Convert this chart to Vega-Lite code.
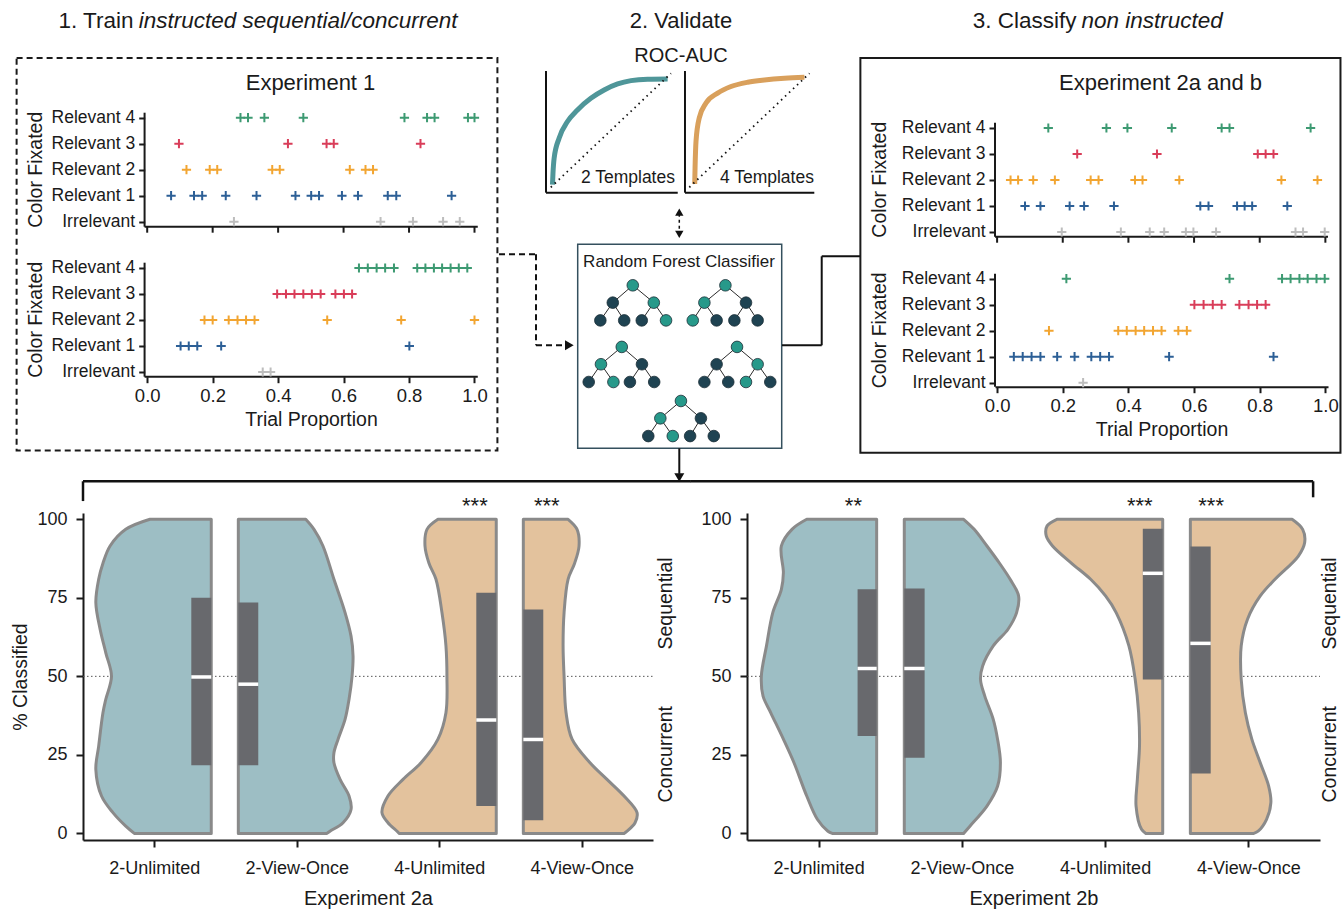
{
"$schema":"https://vega.github.io/schema/vega-lite/v6.json",
"background":"white",
"autosize":{"type":"pad"},
"padding":{"left":5,"top":3,"right":0,"bottom":0},
"config":{"font":"Liberation Sans","view":{"stroke":null},
"axis":{"grid":false,"domainColor":"#1a1a1a","tickColor":"#1a1a1a","labelColor":"#1a1a1a","titleColor":"#1a1a1a","titleFontWeight":"normal","domainWidth":2,"tickWidth":2,"labelFont":"Liberation Sans","titleFont":"Liberation Sans","labelFlush":false,"labelOverlap":false},
"text":{"color":"#1a1a1a","font":"Liberation Sans"}},
"datasets":{
"one":[{"a":1}],
"xticks":[{"v":0},{"v":0.2},{"v":0.4},{"v":0.6},{"v":0.8},{"v":1}],
"e1top":[
{"c":"Relevant 4","l":4,"x":0.285},{"c":"Relevant 4","l":4,"x":0.308},{"c":"Relevant 4","l":4,"x":0.358},{"c":"Relevant 4","l":4,"x":0.477},{"c":"Relevant 4","l":4,"x":0.786},{"c":"Relevant 4","l":4,"x":0.855},{"c":"Relevant 4","l":4,"x":0.878},{"c":"Relevant 4","l":4,"x":0.98},{"c":"Relevant 4","l":4,"x":1.0},
{"c":"Relevant 3","l":3,"x":0.097},{"c":"Relevant 3","l":3,"x":0.43},{"c":"Relevant 3","l":3,"x":0.548},{"c":"Relevant 3","l":3,"x":0.57},{"c":"Relevant 3","l":3,"x":0.835},
{"c":"Relevant 2","l":2,"x":0.12},{"c":"Relevant 2","l":2,"x":0.191},{"c":"Relevant 2","l":2,"x":0.214},{"c":"Relevant 2","l":2,"x":0.382},{"c":"Relevant 2","l":2,"x":0.405},{"c":"Relevant 2","l":2,"x":0.619},{"c":"Relevant 2","l":2,"x":0.667},{"c":"Relevant 2","l":2,"x":0.69},
{"c":"Relevant 1","l":1,"x":0.073},{"c":"Relevant 1","l":1,"x":0.143},{"c":"Relevant 1","l":1,"x":0.168},{"c":"Relevant 1","l":1,"x":0.24},{"c":"Relevant 1","l":1,"x":0.334},{"c":"Relevant 1","l":1,"x":0.453},{"c":"Relevant 1","l":1,"x":0.501},{"c":"Relevant 1","l":1,"x":0.525},{"c":"Relevant 1","l":1,"x":0.595},{"c":"Relevant 1","l":1,"x":0.644},{"c":"Relevant 1","l":1,"x":0.735},{"c":"Relevant 1","l":1,"x":0.761},{"c":"Relevant 1","l":1,"x":0.93},
{"c":"Irrelevant","l":0,"x":0.265},{"c":"Irrelevant","l":0,"x":0.713},{"c":"Irrelevant","l":0,"x":0.812},{"c":"Irrelevant","l":0,"x":0.904},{"c":"Irrelevant","l":0,"x":0.955}],
"e1bot":[
{"c":"Relevant 4","l":4,"x":0.647},{"c":"Relevant 4","l":4,"x":0.674},{"c":"Relevant 4","l":4,"x":0.701},{"c":"Relevant 4","l":4,"x":0.727},{"c":"Relevant 4","l":4,"x":0.754},{"c":"Relevant 4","l":4,"x":0.825},{"c":"Relevant 4","l":4,"x":0.85},{"c":"Relevant 4","l":4,"x":0.876},{"c":"Relevant 4","l":4,"x":0.901},{"c":"Relevant 4","l":4,"x":0.927},{"c":"Relevant 4","l":4,"x":0.952},{"c":"Relevant 4","l":4,"x":0.978},
{"c":"Relevant 3","l":3,"x":0.397},{"c":"Relevant 3","l":3,"x":0.424},{"c":"Relevant 3","l":3,"x":0.45},{"c":"Relevant 3","l":3,"x":0.477},{"c":"Relevant 3","l":3,"x":0.503},{"c":"Relevant 3","l":3,"x":0.53},{"c":"Relevant 3","l":3,"x":0.575},{"c":"Relevant 3","l":3,"x":0.601},{"c":"Relevant 3","l":3,"x":0.626},
{"c":"Relevant 2","l":2,"x":0.175},{"c":"Relevant 2","l":2,"x":0.2},{"c":"Relevant 2","l":2,"x":0.249},{"c":"Relevant 2","l":2,"x":0.276},{"c":"Relevant 2","l":2,"x":0.302},{"c":"Relevant 2","l":2,"x":0.328},{"c":"Relevant 2","l":2,"x":0.55},{"c":"Relevant 2","l":2,"x":0.776},{"c":"Relevant 2","l":2,"x":1.0},
{"c":"Relevant 1","l":1,"x":0.102},{"c":"Relevant 1","l":1,"x":0.127},{"c":"Relevant 1","l":1,"x":0.153},{"c":"Relevant 1","l":1,"x":0.226},{"c":"Relevant 1","l":1,"x":0.801},
{"c":"Irrelevant","l":0,"x":0.353},{"c":"Irrelevant","l":0,"x":0.377}],
"e2top":[
{"c":"Relevant 4","l":4,"x":0.156},{"c":"Relevant 4","l":4,"x":0.333},{"c":"Relevant 4","l":4,"x":0.397},{"c":"Relevant 4","l":4,"x":0.532},{"c":"Relevant 4","l":4,"x":0.684},{"c":"Relevant 4","l":4,"x":0.708},{"c":"Relevant 4","l":4,"x":0.955},
{"c":"Relevant 3","l":3,"x":0.244},{"c":"Relevant 3","l":3,"x":0.487},{"c":"Relevant 3","l":3,"x":0.794},{"c":"Relevant 3","l":3,"x":0.818},{"c":"Relevant 3","l":3,"x":0.842},
{"c":"Relevant 2","l":2,"x":0.041},{"c":"Relevant 2","l":2,"x":0.064},{"c":"Relevant 2","l":2,"x":0.11},{"c":"Relevant 2","l":2,"x":0.176},{"c":"Relevant 2","l":2,"x":0.285},{"c":"Relevant 2","l":2,"x":0.309},{"c":"Relevant 2","l":2,"x":0.42},{"c":"Relevant 2","l":2,"x":0.443},{"c":"Relevant 2","l":2,"x":0.555},{"c":"Relevant 2","l":2,"x":0.866},{"c":"Relevant 2","l":2,"x":0.976},
{"c":"Relevant 1","l":1,"x":0.085},{"c":"Relevant 1","l":1,"x":0.132},{"c":"Relevant 1","l":1,"x":0.221},{"c":"Relevant 1","l":1,"x":0.265},{"c":"Relevant 1","l":1,"x":0.356},{"c":"Relevant 1","l":1,"x":0.619},{"c":"Relevant 1","l":1,"x":0.644},{"c":"Relevant 1","l":1,"x":0.731},{"c":"Relevant 1","l":1,"x":0.754},{"c":"Relevant 1","l":1,"x":0.777},{"c":"Relevant 1","l":1,"x":0.884},
{"c":"Irrelevant","l":0,"x":0.197},{"c":"Irrelevant","l":0,"x":0.377},{"c":"Irrelevant","l":0,"x":0.465},{"c":"Irrelevant","l":0,"x":0.509},{"c":"Irrelevant","l":0,"x":0.575},{"c":"Irrelevant","l":0,"x":0.598},{"c":"Irrelevant","l":0,"x":0.667},{"c":"Irrelevant","l":0,"x":0.909},{"c":"Irrelevant","l":0,"x":0.932},{"c":"Irrelevant","l":0,"x":0.998}],
"e2bot":[
{"c":"Relevant 4","l":4,"x":0.211},{"c":"Relevant 4","l":4,"x":0.708},{"c":"Relevant 4","l":4,"x":0.868},{"c":"Relevant 4","l":4,"x":0.894},{"c":"Relevant 4","l":4,"x":0.921},{"c":"Relevant 4","l":4,"x":0.946},{"c":"Relevant 4","l":4,"x":0.973},{"c":"Relevant 4","l":4,"x":0.998},
{"c":"Relevant 3","l":3,"x":0.601},{"c":"Relevant 3","l":3,"x":0.629},{"c":"Relevant 3","l":3,"x":0.657},{"c":"Relevant 3","l":3,"x":0.684},{"c":"Relevant 3","l":3,"x":0.738},{"c":"Relevant 3","l":3,"x":0.766},{"c":"Relevant 3","l":3,"x":0.792},{"c":"Relevant 3","l":3,"x":0.818},
{"c":"Relevant 2","l":2,"x":0.158},{"c":"Relevant 2","l":2,"x":0.369},{"c":"Relevant 2","l":2,"x":0.395},{"c":"Relevant 2","l":2,"x":0.422},{"c":"Relevant 2","l":2,"x":0.448},{"c":"Relevant 2","l":2,"x":0.475},{"c":"Relevant 2","l":2,"x":0.501},{"c":"Relevant 2","l":2,"x":0.552},{"c":"Relevant 2","l":2,"x":0.578},
{"c":"Relevant 1","l":1,"x":0.051},{"c":"Relevant 1","l":1,"x":0.078},{"c":"Relevant 1","l":1,"x":0.105},{"c":"Relevant 1","l":1,"x":0.132},{"c":"Relevant 1","l":1,"x":0.183},{"c":"Relevant 1","l":1,"x":0.236},{"c":"Relevant 1","l":1,"x":0.287},{"c":"Relevant 1","l":1,"x":0.314},{"c":"Relevant 1","l":1,"x":0.341},{"c":"Relevant 1","l":1,"x":0.524},{"c":"Relevant 1","l":1,"x":0.842},
{"c":"Irrelevant","l":0,"x":0.262}],
"roc2":[{"f":0.014,"t":0.023},{"f":0.018,"t":0.12},{"f":0.028,"t":0.257},{"f":0.069,"t":0.431},{"f":0.139,"t":0.577},{"f":0.222,"t":0.679},{"f":0.333,"t":0.781},{"f":0.444,"t":0.854},{"f":0.556,"t":0.907},{"f":0.667,"t":0.936},{"f":0.806,"t":0.948},{"f":0.972,"t":0.95}],
"roc4":[{"f":0.045,"t":0.029},{"f":0.048,"t":0.174},{"f":0.056,"t":0.406},{"f":0.083,"t":0.609},{"f":0.139,"t":0.739},{"f":0.236,"t":0.826},{"f":0.347,"t":0.884},{"f":0.486,"t":0.922},{"f":0.625,"t":0.942},{"f":0.792,"t":0.957},{"f":0.958,"t":0.965}],
"nodes":[
{"x":2.70,"y":2.01,"k":"t"},{"x":1.72,"y":2.86,"k":"d"},{"x":3.73,"y":2.86,"k":"t"},{"x":1.11,"y":3.73,"k":"d"},{"x":2.28,"y":3.73,"k":"d"},{"x":3.14,"y":3.73,"k":"d"},{"x":4.33,"y":3.73,"k":"t"},
{"x":7.24,"y":2.01,"k":"t"},{"x":6.21,"y":2.86,"k":"t"},{"x":8.25,"y":2.86,"k":"d"},{"x":5.64,"y":3.73,"k":"t"},{"x":6.81,"y":3.73,"k":"d"},{"x":7.68,"y":3.73,"k":"d"},{"x":8.82,"y":3.73,"k":"d"},
{"x":2.16,"y":5.03,"k":"t"},{"x":1.14,"y":5.88,"k":"t"},{"x":3.15,"y":5.88,"k":"d"},{"x":0.54,"y":6.75,"k":"d"},{"x":1.75,"y":6.75,"k":"t"},{"x":2.56,"y":6.75,"k":"d"},{"x":3.75,"y":6.75,"k":"d"},
{"x":7.81,"y":5.03,"k":"t"},{"x":6.81,"y":5.88,"k":"d"},{"x":8.82,"y":5.88,"k":"t"},{"x":6.21,"y":6.75,"k":"d"},{"x":7.38,"y":6.75,"k":"d"},{"x":8.25,"y":6.75,"k":"t"},{"x":9.44,"y":6.75,"k":"d"},
{"x":5.06,"y":7.68,"k":"t"},{"x":4.05,"y":8.53,"k":"t"},{"x":6.04,"y":8.53,"k":"d"},{"x":3.46,"y":9.40,"k":"d"},{"x":4.66,"y":9.40,"k":"t"},{"x":5.51,"y":9.40,"k":"d"},{"x":6.67,"y":9.40,"k":"d"}],
"edges":[
{"x":2.70,"y":2.01,"x2":1.72,"y2":2.86},{"x":2.70,"y":2.01,"x2":3.73,"y2":2.86},{"x":1.72,"y":2.86,"x2":1.11,"y2":3.73},{"x":1.72,"y":2.86,"x2":2.28,"y2":3.73},{"x":3.73,"y":2.86,"x2":3.14,"y2":3.73},{"x":3.73,"y":2.86,"x2":4.33,"y2":3.73},
{"x":7.24,"y":2.01,"x2":6.21,"y2":2.86},{"x":7.24,"y":2.01,"x2":8.25,"y2":2.86},{"x":6.21,"y":2.86,"x2":5.64,"y2":3.73},{"x":6.21,"y":2.86,"x2":6.81,"y2":3.73},{"x":8.25,"y":2.86,"x2":7.68,"y2":3.73},{"x":8.25,"y":2.86,"x2":8.82,"y2":3.73},
{"x":2.16,"y":5.03,"x2":1.14,"y2":5.88},{"x":2.16,"y":5.03,"x2":3.15,"y2":5.88},{"x":1.14,"y":5.88,"x2":0.54,"y2":6.75},{"x":1.14,"y":5.88,"x2":1.75,"y2":6.75},{"x":3.15,"y":5.88,"x2":2.56,"y2":6.75},{"x":3.15,"y":5.88,"x2":3.75,"y2":6.75},
{"x":7.81,"y":5.03,"x2":6.81,"y2":5.88},{"x":7.81,"y":5.03,"x2":8.82,"y2":5.88},{"x":6.81,"y":5.88,"x2":6.21,"y2":6.75},{"x":6.81,"y":5.88,"x2":7.38,"y2":6.75},{"x":8.82,"y":5.88,"x2":8.25,"y2":6.75},{"x":8.82,"y":5.88,"x2":9.44,"y2":6.75},
{"x":5.06,"y":7.68,"x2":4.05,"y2":8.53},{"x":5.06,"y":7.68,"x2":6.04,"y2":8.53},{"x":4.05,"y":8.53,"x2":3.46,"y2":9.40},{"x":4.05,"y":8.53,"x2":4.66,"y2":9.40},{"x":6.04,"y":8.53,"x2":5.51,"y2":9.40},{"x":6.04,"y":8.53,"x2":6.67,"y2":9.40}],
"vio2a":[
{"c":"2-Unlimited","t":"2","y":0,"xo":-0.14,"xe":0.40},{"c":"2-Unlimited","t":"2","y":2.3,"xo":-0.20,"xe":0.40},{"c":"2-Unlimited","t":"2","y":6.6,"xo":-0.29,"xe":0.40},{"c":"2-Unlimited","t":"2","y":11.9,"xo":-0.37,"xe":0.40},{"c":"2-Unlimited","t":"2","y":20.4,"xo":-0.41,"xe":0.40},{"c":"2-Unlimited","t":"2","y":27.8,"xo":-0.39,"xe":0.40},{"c":"2-Unlimited","t":"2","y":38.4,"xo":-0.36,"xe":0.40},{"c":"2-Unlimited","t":"2","y":42.7,"xo":-0.34,"xe":0.40},{"c":"2-Unlimited","t":"2","y":50,"xo":-0.30,"xe":0.40},{"c":"2-Unlimited","t":"2","y":57.5,"xo":-0.34,"xe":0.40},{"c":"2-Unlimited","t":"2","y":65,"xo":-0.38,"xe":0.40},{"c":"2-Unlimited","t":"2","y":73.5,"xo":-0.41,"xe":0.40},{"c":"2-Unlimited","t":"2","y":80.9,"xo":-0.39,"xe":0.40},{"c":"2-Unlimited","t":"2","y":86,"xo":-0.36,"xe":0.40},{"c":"2-Unlimited","t":"2","y":91.5,"xo":-0.31,"xe":0.40},{"c":"2-Unlimited","t":"2","y":96.8,"xo":-0.20,"xe":0.40},{"c":"2-Unlimited","t":"2","y":100,"xo":-0.03,"xe":0.40},
{"c":"2-View-Once","t":"2","y":0,"xo":1.212,"xe":0.59},{"c":"2-View-Once","t":"2","y":0.7,"xo":1.233,"xe":0.59},{"c":"2-View-Once","t":"2","y":3.4,"xo":1.325,"xe":0.59},{"c":"2-View-Once","t":"2","y":7.6,"xo":1.381,"xe":0.59},{"c":"2-View-Once","t":"2","y":11.9,"xo":1.367,"xe":0.59},{"c":"2-View-Once","t":"2","y":17.2,"xo":1.304,"xe":0.59},{"c":"2-View-Once","t":"2","y":22.5,"xo":1.261,"xe":0.59},{"c":"2-View-Once","t":"2","y":25.7,"xo":1.261,"xe":0.59},{"c":"2-View-Once","t":"2","y":30,"xo":1.29,"xe":0.59},{"c":"2-View-Once","t":"2","y":36.3,"xo":1.339,"xe":0.59},{"c":"2-View-Once","t":"2","y":42.7,"xo":1.367,"xe":0.59},{"c":"2-View-Once","t":"2","y":50,"xo":1.388,"xe":0.59},{"c":"2-View-Once","t":"2","y":56.5,"xo":1.395,"xe":0.59},{"c":"2-View-Once","t":"2","y":62.8,"xo":1.381,"xe":0.59},{"c":"2-View-Once","t":"2","y":70.3,"xo":1.339,"xe":0.59},{"c":"2-View-Once","t":"2","y":80.9,"xo":1.261,"xe":0.59},{"c":"2-View-Once","t":"2","y":91.5,"xo":1.184,"xe":0.59},{"c":"2-View-Once","t":"2","y":96.8,"xo":1.121,"xe":0.59},{"c":"2-View-Once","t":"2","y":100,"xo":1.063,"xe":0.59},
{"c":"4-Unlimited","t":"4","y":0,"xo":1.718,"xe":2.40},{"c":"4-Unlimited","t":"4","y":0.7,"xo":1.704,"xe":2.40},{"c":"4-Unlimited","t":"4","y":3.4,"xo":1.64,"xe":2.40},{"c":"4-Unlimited","t":"4","y":6.6,"xo":1.598,"xe":2.40},{"c":"4-Unlimited","t":"4","y":11.9,"xo":1.64,"xe":2.40},{"c":"4-Unlimited","t":"4","y":17.2,"xo":1.746,"xe":2.40},{"c":"4-Unlimited","t":"4","y":22.5,"xo":1.872,"xe":2.40},{"c":"4-Unlimited","t":"4","y":30,"xo":1.991,"xe":2.40},{"c":"4-Unlimited","t":"4","y":38.4,"xo":2.047,"xe":2.40},{"c":"4-Unlimited","t":"4","y":50,"xo":2.054,"xe":2.40},{"c":"4-Unlimited","t":"4","y":59.7,"xo":2.047,"xe":2.40},{"c":"4-Unlimited","t":"4","y":70.3,"xo":2.019,"xe":2.40},{"c":"4-Unlimited","t":"4","y":80.9,"xo":1.977,"xe":2.40},{"c":"4-Unlimited","t":"4","y":86,"xo":1.928,"xe":2.40},{"c":"4-Unlimited","t":"4","y":91.5,"xo":1.9,"xe":2.40},{"c":"4-Unlimited","t":"4","y":96.8,"xo":1.914,"xe":2.40},{"c":"4-Unlimited","t":"4","y":100,"xo":1.991,"xe":2.40},
{"c":"4-View-Once","t":"4","y":0,"xo":3.297,"xe":2.59},{"c":"4-View-Once","t":"4","y":0.7,"xo":3.318,"xe":2.59},{"c":"4-View-Once","t":"4","y":3.4,"xo":3.374,"xe":2.59},{"c":"4-View-Once","t":"4","y":6.6,"xo":3.388,"xe":2.59},{"c":"4-View-Once","t":"4","y":11.9,"xo":3.297,"xe":2.59},{"c":"4-View-Once","t":"4","y":17.2,"xo":3.177,"xe":2.59},{"c":"4-View-Once","t":"4","y":22.5,"xo":3.058,"xe":2.59},{"c":"4-View-Once","t":"4","y":30,"xo":2.932,"xe":2.59},{"c":"4-View-Once","t":"4","y":38.4,"xo":2.89,"xe":2.59},{"c":"4-View-Once","t":"4","y":50,"xo":2.876,"xe":2.59},{"c":"4-View-Once","t":"4","y":59.7,"xo":2.869,"xe":2.59},{"c":"4-View-Once","t":"4","y":70.3,"xo":2.876,"xe":2.59},{"c":"4-View-Once","t":"4","y":80.9,"xo":2.904,"xe":2.59},{"c":"4-View-Once","t":"4","y":86,"xo":2.95,"xe":2.59},{"c":"4-View-Once","t":"4","y":91.5,"xo":2.981,"xe":2.59},{"c":"4-View-Once","t":"4","y":96.8,"xo":2.967,"xe":2.59},{"c":"4-View-Once","t":"4","y":100,"xo":2.904,"xe":2.59}],
"vio2b":[
{"c":"2-Unlimited","t":"2","y":0,"xo":0.095,"xe":0.405},{"c":"2-Unlimited","t":"2","y":0.7,"xo":0.065,"xe":0.405},{"c":"2-Unlimited","t":"2","y":4.5,"xo":-0.009,"xe":0.405},{"c":"2-Unlimited","t":"2","y":11.9,"xo":-0.083,"xe":0.405},{"c":"2-Unlimited","t":"2","y":22.5,"xo":-0.172,"xe":0.405},{"c":"2-Unlimited","t":"2","y":30,"xo":-0.246,"xe":0.405},{"c":"2-Unlimited","t":"2","y":38.4,"xo":-0.334,"xe":0.405},{"c":"2-Unlimited","t":"2","y":43.7,"xo":-0.388,"xe":0.405},{"c":"2-Unlimited","t":"2","y":50,"xo":-0.4,"xe":0.405},{"c":"2-Unlimited","t":"2","y":59.7,"xo":-0.364,"xe":0.405},{"c":"2-Unlimited","t":"2","y":70.3,"xo":-0.32,"xe":0.405},{"c":"2-Unlimited","t":"2","y":77.7,"xo":-0.26,"xe":0.405},{"c":"2-Unlimited","t":"2","y":83,"xo":-0.246,"xe":0.405},{"c":"2-Unlimited","t":"2","y":91.5,"xo":-0.26,"xe":0.405},{"c":"2-Unlimited","t":"2","y":96.8,"xo":-0.186,"xe":0.405},{"c":"2-Unlimited","t":"2","y":100,"xo":-0.083,"xe":0.405},
{"c":"2-View-Once","t":"2","y":0,"xo":1.012,"xe":0.598},{"c":"2-View-Once","t":"2","y":2.3,"xo":1.056,"xe":0.598},{"c":"2-View-Once","t":"2","y":8.7,"xo":1.175,"xe":0.598},{"c":"2-View-Once","t":"2","y":15,"xo":1.249,"xe":0.598},{"c":"2-View-Once","t":"2","y":22.5,"xo":1.269,"xe":0.598},{"c":"2-View-Once","t":"2","y":30,"xo":1.249,"xe":0.598},{"c":"2-View-Once","t":"2","y":36.3,"xo":1.219,"xe":0.598},{"c":"2-View-Once","t":"2","y":43.7,"xo":1.16,"xe":0.598},{"c":"2-View-Once","t":"2","y":49,"xo":1.13,"xe":0.598},{"c":"2-View-Once","t":"2","y":53.3,"xo":1.145,"xe":0.598},{"c":"2-View-Once","t":"2","y":59.7,"xo":1.219,"xe":0.598},{"c":"2-View-Once","t":"2","y":65,"xo":1.322,"xe":0.598},{"c":"2-View-Once","t":"2","y":70.3,"xo":1.382,"xe":0.598},{"c":"2-View-Once","t":"2","y":75.6,"xo":1.396,"xe":0.598},{"c":"2-View-Once","t":"2","y":80.9,"xo":1.337,"xe":0.598},{"c":"2-View-Once","t":"2","y":86,"xo":1.263,"xe":0.598},{"c":"2-View-Once","t":"2","y":91.5,"xo":1.175,"xe":0.598},{"c":"2-View-Once","t":"2","y":96.8,"xo":1.086,"xe":0.598},{"c":"2-View-Once","t":"2","y":100,"xo":1.012,"xe":0.598},
{"c":"4-Unlimited","t":"4","y":0,"xo":2.284,"xe":2.402},{"c":"4-Unlimited","t":"4","y":1.3,"xo":2.254,"xe":2.402},{"c":"4-Unlimited","t":"4","y":8.7,"xo":2.216,"xe":2.402},{"c":"4-Unlimited","t":"4","y":17.2,"xo":2.225,"xe":2.402},{"c":"4-Unlimited","t":"4","y":27.8,"xo":2.24,"xe":2.402},{"c":"4-Unlimited","t":"4","y":38.4,"xo":2.234,"xe":2.402},{"c":"4-Unlimited","t":"4","y":49,"xo":2.21,"xe":2.402},{"c":"4-Unlimited","t":"4","y":59.7,"xo":2.166,"xe":2.402},{"c":"4-Unlimited","t":"4","y":70.3,"xo":2.077,"xe":2.402},{"c":"4-Unlimited","t":"4","y":75.6,"xo":2.003,"xe":2.402},{"c":"4-Unlimited","t":"4","y":80.9,"xo":1.899,"xe":2.402},{"c":"4-Unlimited","t":"4","y":86,"xo":1.766,"xe":2.402},{"c":"4-Unlimited","t":"4","y":91.5,"xo":1.633,"xe":2.402},{"c":"4-Unlimited","t":"4","y":94.7,"xo":1.589,"xe":2.402},{"c":"4-Unlimited","t":"4","y":97.9,"xo":1.595,"xe":2.402},{"c":"4-Unlimited","t":"4","y":100,"xo":1.663,"xe":2.402},
{"c":"4-View-Once","t":"4","y":0,"xo":3.038,"xe":2.595},{"c":"4-View-Once","t":"4","y":0.7,"xo":3.068,"xe":2.595},{"c":"4-View-Once","t":"4","y":4.5,"xo":3.127,"xe":2.595},{"c":"4-View-Once","t":"4","y":9.8,"xo":3.157,"xe":2.595},{"c":"4-View-Once","t":"4","y":15,"xo":3.142,"xe":2.595},{"c":"4-View-Once","t":"4","y":22.5,"xo":3.083,"xe":2.595},{"c":"4-View-Once","t":"4","y":30,"xo":3.024,"xe":2.595},{"c":"4-View-Once","t":"4","y":38.4,"xo":2.979,"xe":2.595},{"c":"4-View-Once","t":"4","y":49,"xo":2.95,"xe":2.595},{"c":"4-View-Once","t":"4","y":59.7,"xo":2.95,"xe":2.595},{"c":"4-View-Once","t":"4","y":68.2,"xo":2.994,"xe":2.595},{"c":"4-View-Once","t":"4","y":75.6,"xo":3.083,"xe":2.595},{"c":"4-View-Once","t":"4","y":80.9,"xo":3.186,"xe":2.595},{"c":"4-View-Once","t":"4","y":88.3,"xo":3.349,"xe":2.595},{"c":"4-View-Once","t":"4","y":92.6,"xo":3.393,"xe":2.595},{"c":"4-View-Once","t":"4","y":96.8,"xo":3.379,"xe":2.595},{"c":"4-View-Once","t":"4","y":100,"xo":3.305,"xe":2.595}],
"box2a":[{"c":"2-Unlimited","x1":0.26,"x2":0.40,"q1":21.7,"q3":75.0,"med":49.8},{"c":"2-View-Once","x1":0.59,"x2":0.73,"q1":21.7,"q3":73.5,"med":47.5},{"c":"4-Unlimited","x1":2.26,"x2":2.40,"q1":8.7,"q3":76.6,"med":36.1},{"c":"4-View-Once","x1":2.59,"x2":2.73,"q1":4.2,"q3":71.3,"med":29.9}],
"box2b":[{"c":"2-Unlimited","x1":0.272,"x2":0.405,"q1":31.0,"q3":77.7,"med":52.5},{"c":"2-View-Once","x1":0.598,"x2":0.74,"q1":24.1,"q3":78.0,"med":52.5},{"c":"4-Unlimited","x1":2.263,"x2":2.402,"q1":49.0,"q3":97.0,"med":82.8},{"c":"4-View-Once","x1":2.595,"x2":2.737,"q1":19.1,"q3":91.3,"med":60.5}]
},
"spacing":-23,
"vconcat":[
{"spacing":-11,"hconcat":[
{"width":394.5,"height":305.7,"resolve":{"scale":{"y":"independent"}},
"layer":[
{"layer":[
{"data":{"name":"one"},"mark":{"type":"rect","opacity":0},"encoding":{"x":{"datum":-0.4329,"type":"quantitative","scale":{"domain":[-0.19615,1.00917],"nice":false,"zero":false}},"x2":{"datum":1.0947},"y":{"datum":14.154,"type":"quantitative","scale":{"domain":[-0.181,11.577],"nice":false,"zero":false}},"y2":{"datum":-3.231}}},
{"data":{"name":"one"},"mark":{"type":"rect","filled":false,"stroke":"#1a1a1a","strokeWidth":2,"strokeDash":[6,4]},"encoding":{"x":{"datum":-0.399,"type":"quantitative"},"x2":{"datum":1.07},"y":{"datum":12.077,"type":"quantitative"},"y2":{"datum":-3.02}}},
{"data":{"name":"one"},"mark":{"type":"text","text":"1. Train","fontSize":22.5,"align":"right","baseline":"middle"},"encoding":{"x":{"datum":-0.042,"type":"quantitative"},"y":{"datum":13.5,"type":"quantitative"}}},
{"data":{"name":"one"},"mark":{"type":"text","text":"instructed sequential/concurrent","fontSize":22.5,"fontStyle":"italic","align":"left","baseline":"middle"},"encoding":{"x":{"datum":-0.026,"type":"quantitative"},"y":{"datum":13.5,"type":"quantitative"}}},
{"data":{"name":"one"},"mark":{"type":"text","text":"Experiment 1","fontSize":22,"align":"center","baseline":"middle"},"encoding":{"x":{"datum":0.499,"type":"quantitative"},"y":{"datum":11.115,"type":"quantitative"}}},
{"data":{"name":"one"},"mark":{"type":"text","text":"Color Fixated","fontSize":19.5,"angle":270,"align":"center","baseline":"middle"},"encoding":{"x":{"datum":-0.341,"type":"quantitative"},"y":{"datum":7.781,"type":"quantitative"}}},
{"data":{"name":"one"},"mark":{"type":"text","text":"Color Fixated","fontSize":19.5,"angle":270,"align":"center","baseline":"middle"},"encoding":{"x":{"datum":-0.341,"type":"quantitative"},"y":{"datum":2.012,"type":"quantitative"}}},
{"data":{"name":"one"},"mark":{"type":"rule","color":"#1a1a1a","strokeWidth":2},"encoding":{"x":{"datum":-0.008,"type":"quantitative"},"y":{"datum":5.588,"type":"quantitative"},"y2":{"datum":9.973}}},
{"data":{"name":"one"},"mark":{"type":"rule","color":"#1a1a1a","strokeWidth":2},"encoding":{"x":{"datum":-0.008,"type":"quantitative"},"y":{"datum":-0.181,"type":"quantitative"},"y2":{"datum":4.204}}},
{"data":{"name":"one"},"mark":{"type":"rule","color":"#1a1a1a","strokeWidth":2},"encoding":{"x":{"datum":-0.008,"type":"quantitative"},"x2":{"datum":1.01},"y":{"datum":5.588,"type":"quantitative"}}},
{"data":{"name":"one"},"mark":{"type":"rule","color":"#1a1a1a","strokeWidth":2},"encoding":{"x":{"datum":-0.008,"type":"quantitative"},"x2":{"datum":1.01},"y":{"datum":-0.181,"type":"quantitative"}}},
{"data":{"name":"xticks"},"mark":{"type":"rule","color":"#1a1a1a","strokeWidth":2},"encoding":{"x":{"field":"v","type":"quantitative"},"y":{"datum":5.588,"type":"quantitative"},"y2":{"datum":5.358}}},
{"data":{"name":"e1bot"},"mark":{"type":"point","shape":"M-1,0L1,0M0,-1L0,1","filled":false,"strokeWidth":2,"size":85,"opacity":1},
"encoding":{"x":{"field":"x","type":"quantitative","axis":{"values":[0,0.2,0.4,0.6,0.8,1],"format":".1f","title":"Trial Proportion","titleX":228,"titleAlign":"center","domain":false,"labelFontSize":18.5,"titleFontSize":19.5,"tickSize":6,"labelPadding":4,"titlePadding":5}},
"y":{"field":"l","type":"quantitative","axis":{"orient":"left","offset":-61.7,"values":[0,1,2,3,4],"labelExpr":"['Irrelevant','Relevant 1','Relevant 2','Relevant 3','Relevant 4'][datum.value]","title":null,"domain":false,"labelFontSize":17.5,"tickSize":6,"labelPadding":4}},
"color":{"field":"c","type":"nominal","scale":{"domain":["Irrelevant","Relevant 1","Relevant 2","Relevant 3","Relevant 4"],"range":["#bdbdbd","#2c5f96","#f2a531","#d93d59","#3d9a72"]},"legend":null}}}
]},
{"data":{"name":"e1top"},"mark":{"type":"point","shape":"M-1,0L1,0M0,-1L0,1","filled":false,"strokeWidth":2,"size":85,"opacity":1},
"encoding":{"x":{"field":"x","type":"quantitative","scale":{"domain":[-0.19615,1.00917],"nice":false,"zero":false}},
"y":{"field":"l","type":"quantitative","scale":{"domain":[-5.962,5.796],"nice":false,"zero":false},"axis":{"orient":"left","offset":-61.7,"values":[0,1,2,3,4],"labelExpr":"['Irrelevant','Relevant 1','Relevant 2','Relevant 3','Relevant 4'][datum.value]","title":null,"domain":false,"labelFontSize":17.5,"tickSize":6,"labelPadding":4}},
"color":{"field":"c","type":"nominal","scale":{"domain":["Irrelevant","Relevant 1","Relevant 2","Relevant 3","Relevant 4"],"range":["#bdbdbd","#2c5f96","#f2a531","#d93d59","#3d9a72"]},"legend":null}}}
]},
{"width":269,"height":377,"resolve":{"scale":{"x":"independent","y":"independent"}},
"layer":[
{"layer":[
{"data":{"name":"one"},"mark":{"type":"rect","opacity":0},"encoding":{"x":{"datum":-4.005,"type":"quantitative","scale":{"domain":[-1.554,11.632],"nice":false,"zero":false},"axis":null},"x2":{"datum":14.083},"y":{"datum":-11.78,"type":"quantitative","scale":{"domain":[-8.495,9.985],"nice":false,"zero":false,"reverse":true},"axis":null},"y2":{"datum":12.093}}},
{"data":{"name":"one"},"mark":{"type":"rect","fill":"white","stroke":"#34505e","strokeWidth":1.5},"encoding":{"x":{"datum":0,"type":"quantitative","axis":null},"x2":{"datum":10},"y":{"datum":0,"type":"quantitative","axis":null},"y2":{"datum":10}}},
{"data":{"name":"one"},"mark":{"type":"text","text":"2. Validate","fontSize":22,"align":"center","baseline":"middle"},"encoding":{"x":{"datum":5.064,"type":"quantitative","axis":null},"y":{"datum":-10.946,"type":"quantitative","axis":null}}},
{"data":{"name":"one"},"mark":{"type":"text","text":"ROC-AUC","fontSize":20,"align":"center","baseline":"middle"},"encoding":{"x":{"datum":5.064,"type":"quantitative","axis":null},"y":{"datum":-9.23,"type":"quantitative","axis":null}}},
{"data":{"name":"one"},"mark":{"type":"text","text":"Random Forest Classifier","fontSize":17,"align":"center","baseline":"middle"},"encoding":{"x":{"datum":4.966,"type":"quantitative","axis":null},"y":{"datum":0.868,"type":"quantitative","axis":null}}},
{"data":{"name":"edges"},"mark":{"type":"rule","color":"#2b2b2b","strokeWidth":1},"encoding":{"x":{"field":"x","type":"quantitative","axis":null},"y":{"field":"y","type":"quantitative","axis":null},"x2":{"field":"x2"},"y2":{"field":"y2"}}},
{"data":{"name":"nodes"},"transform":[{"filter":"datum.k == 't'"}],"mark":{"type":"point","shape":"circle","filled":true,"size":135,"opacity":1,"color":"#27998a","stroke":"#1b2d36","strokeWidth":0.8},"encoding":{"x":{"field":"x","type":"quantitative","axis":null},"y":{"field":"y","type":"quantitative","axis":null}}},
{"data":{"name":"nodes"},"transform":[{"filter":"datum.k == 'd'"}],"mark":{"type":"point","shape":"circle","filled":true,"size":135,"opacity":1,"color":"#1f4352","stroke":"#1b2d36","strokeWidth":0.8},"encoding":{"x":{"field":"x","type":"quantitative","axis":null},"y":{"field":"y","type":"quantitative","axis":null}}},
{"data":{"name":"one"},"mark":{"type":"rule","color":"#111","strokeWidth":2,"strokeDash":[6,4]},"encoding":{"x":{"datum":-3.858,"type":"quantitative","axis":null},"x2":{"datum":-2.044},"y":{"datum":0.49,"type":"quantitative","axis":null}}},
{"data":{"name":"one"},"mark":{"type":"rule","color":"#111","strokeWidth":2,"strokeDash":[6,4]},"encoding":{"x":{"datum":-2.044,"type":"quantitative","axis":null},"y":{"datum":0.49,"type":"quantitative","axis":null},"y2":{"datum":4.951}}},
{"data":{"name":"one"},"mark":{"type":"rule","color":"#111","strokeWidth":2,"strokeDash":[6,4]},"encoding":{"x":{"datum":-2.044,"type":"quantitative","axis":null},"x2":{"datum":-0.6},"y":{"datum":4.951,"type":"quantitative","axis":null}}},
{"data":{"name":"one"},"mark":{"type":"point","shape":"triangle-right","filled":true,"size":100,"color":"#111","opacity":1},"encoding":{"x":{"datum":-0.41,"type":"quantitative","axis":null},"y":{"datum":4.951,"type":"quantitative","axis":null}}},
{"data":{"name":"one"},"mark":{"type":"rule","color":"#111","strokeWidth":2},"encoding":{"x":{"datum":10.015,"type":"quantitative","axis":null},"x2":{"datum":11.961},"y":{"datum":4.951,"type":"quantitative","axis":null}}},
{"data":{"name":"one"},"mark":{"type":"rule","color":"#111","strokeWidth":2},"encoding":{"x":{"datum":11.961,"type":"quantitative","axis":null},"y":{"datum":4.951,"type":"quantitative","axis":null},"y2":{"datum":0.588}}},
{"data":{"name":"one"},"mark":{"type":"rule","color":"#111","strokeWidth":2},"encoding":{"x":{"datum":11.961,"type":"quantitative","axis":null},"x2":{"datum":13.887},"y":{"datum":0.588,"type":"quantitative","axis":null}}},
{"data":{"name":"one"},"mark":{"type":"rule","color":"#111","strokeWidth":2},"encoding":{"x":{"datum":4.98,"type":"quantitative","axis":null},"y":{"datum":10,"type":"quantitative","axis":null},"y2":{"datum":11.25}}},
{"data":{"name":"one"},"mark":{"type":"point","shape":"triangle-down","filled":true,"size":100,"color":"#111","opacity":1},"encoding":{"x":{"datum":4.98,"type":"quantitative","axis":null},"y":{"datum":11.43,"type":"quantitative","axis":null}}},
{"data":{"name":"one"},"mark":{"type":"rule","color":"#111","strokeWidth":1.5,"strokeDash":[3,3]},"encoding":{"x":{"datum":4.98,"type":"quantitative","axis":null},"y":{"datum":-1.5,"type":"quantitative","axis":null},"y2":{"datum":-0.57}}},
{"data":{"name":"one"},"mark":{"type":"point","shape":"triangle-up","filled":true,"size":70,"color":"#111","opacity":1},"encoding":{"x":{"datum":4.98,"type":"quantitative","axis":null},"y":{"datum":-1.58,"type":"quantitative","axis":null}}},
{"data":{"name":"one"},"mark":{"type":"point","shape":"triangle-down","filled":true,"size":70,"color":"#111","opacity":1},"encoding":{"x":{"datum":4.98,"type":"quantitative","axis":null},"y":{"datum":-0.49,"type":"quantitative","axis":null}}}
]},
{"layer":[
{"data":{"name":"one"},"mark":{"type":"rule","color":"#111","strokeWidth":2},"encoding":{"x":{"datum":-0.04,"type":"quantitative","scale":{"domain":[-0.0399,2.198],"nice":false,"zero":false},"axis":null},"y":{"datum":-0.047,"type":"quantitative","scale":{"domain":[-2.2868,1.0202],"nice":false,"zero":false},"axis":null},"y2":{"datum":1.02}}},
{"data":{"name":"one"},"mark":{"type":"rule","color":"#111","strokeWidth":2},"encoding":{"x":{"datum":-0.04,"type":"quantitative","axis":null},"x2":{"datum":1.056},"y":{"datum":-0.047,"type":"quantitative","axis":null}}},
{"data":{"name":"roc2"},"mark":{"type":"line","color":"#4f9699","strokeWidth":5,"interpolate":"monotone"},"encoding":{"x":{"field":"f","type":"quantitative","axis":null},"y":{"field":"t","type":"quantitative","axis":null}}},
{"data":{"name":"one"},"mark":{"type":"rule","color":"#111","strokeWidth":1.8,"strokeDash":[1.5,4]},"encoding":{"x":{"datum":0,"type":"quantitative","axis":null},"y":{"datum":0,"type":"quantitative","axis":null},"x2":{"datum":1},"y2":{"datum":1}}},
{"data":{"name":"one"},"mark":{"type":"text","text":"2 Templates","fontSize":17.5,"align":"right","baseline":"middle"},"encoding":{"x":{"datum":1.033,"type":"quantitative","axis":null},"y":{"datum":0.082,"type":"quantitative","axis":null}}}
]},
{"layer":[
{"data":{"name":"one"},"mark":{"type":"rule","color":"#111","strokeWidth":2},"encoding":{"x":{"datum":-0.036,"type":"quantitative","scale":{"domain":[-1.1922,1.0458],"nice":false,"zero":false},"axis":null},"y":{"datum":-0.047,"type":"quantitative","scale":{"domain":[-2.2868,1.0202],"nice":false,"zero":false},"axis":null},"y2":{"datum":1.02}}},
{"data":{"name":"one"},"mark":{"type":"rule","color":"#111","strokeWidth":2},"encoding":{"x":{"datum":-0.036,"type":"quantitative","axis":null},"x2":{"datum":1.04},"y":{"datum":-0.047,"type":"quantitative","axis":null}}},
{"data":{"name":"roc4"},"mark":{"type":"line","color":"#d9a05c","strokeWidth":5,"interpolate":"monotone"},"encoding":{"x":{"field":"f","type":"quantitative","axis":null},"y":{"field":"t","type":"quantitative","axis":null}}},
{"data":{"name":"one"},"mark":{"type":"rule","color":"#111","strokeWidth":1.8,"strokeDash":[1.5,4]},"encoding":{"x":{"datum":0,"type":"quantitative","axis":null},"y":{"datum":0,"type":"quantitative","axis":null},"x2":{"datum":1},"y2":{"datum":1}}},
{"data":{"name":"one"},"mark":{"type":"text","text":"4 Templates","fontSize":17.5,"align":"right","baseline":"middle"},"encoding":{"x":{"datum":1.037,"type":"quantitative","axis":null},"y":{"datum":0.082,"type":"quantitative","axis":null}}}
]}
]},
{"width":333,"height":315.7,"resolve":{"scale":{"y":"independent"}},
"layer":[
{"layer":[
{"data":{"name":"one"},"mark":{"type":"rect","opacity":0},"encoding":{"x":{"datum":-0.4318,"type":"quantitative","scale":{"domain":[-0.0064,1.008],"nice":false,"zero":false}},"x2":{"datum":1.0552},"y":{"datum":14.565,"type":"quantitative","scale":{"domain":[-0.154,11.988],"nice":false,"zero":false}},"y2":{"datum":-2.819}}},
{"data":{"name":"one"},"mark":{"type":"rect","filled":false,"stroke":"#1a1a1a","strokeWidth":2},"encoding":{"x":{"datum":-0.4165,"type":"quantitative"},"x2":{"datum":1.046},"y":{"datum":12.488,"type":"quantitative"},"y2":{"datum":-2.69}}},
{"data":{"name":"one"},"mark":{"type":"text","text":"3. Classify","fontSize":22.5,"align":"right","baseline":"middle"},"encoding":{"x":{"datum":0.242,"type":"quantitative"},"y":{"datum":13.91,"type":"quantitative"}}},
{"data":{"name":"one"},"mark":{"type":"text","text":"non instructed","fontSize":22.5,"fontStyle":"italic","align":"left","baseline":"middle"},"encoding":{"x":{"datum":0.257,"type":"quantitative"},"y":{"datum":13.91,"type":"quantitative"}}},
{"data":{"name":"one"},"mark":{"type":"text","text":"Experiment 2a and b","fontSize":22,"align":"center","baseline":"middle"},"encoding":{"x":{"datum":0.498,"type":"quantitative"},"y":{"datum":11.527,"type":"quantitative"}}},
{"data":{"name":"one"},"mark":{"type":"text","text":"Color Fixated","fontSize":19.5,"angle":270,"align":"center","baseline":"middle"},"encoding":{"x":{"datum":-0.3556,"type":"quantitative"},"y":{"datum":7.808,"type":"quantitative"}}},
{"data":{"name":"one"},"mark":{"type":"text","text":"Color Fixated","fontSize":19.5,"angle":270,"align":"center","baseline":"middle"},"encoding":{"x":{"datum":-0.3556,"type":"quantitative"},"y":{"datum":2.012,"type":"quantitative"}}},
{"data":{"name":"one"},"mark":{"type":"rule","color":"#1a1a1a","strokeWidth":2},"encoding":{"x":{"datum":-0.0064,"type":"quantitative"},"y":{"datum":5.615,"type":"quantitative"},"y2":{"datum":10.0}}},
{"data":{"name":"one"},"mark":{"type":"rule","color":"#1a1a1a","strokeWidth":2},"encoding":{"x":{"datum":-0.0064,"type":"quantitative"},"y":{"datum":-0.154,"type":"quantitative"},"y2":{"datum":4.192}}},
{"data":{"name":"one"},"mark":{"type":"rule","color":"#1a1a1a","strokeWidth":2},"encoding":{"x":{"datum":-0.0064,"type":"quantitative"},"x2":{"datum":1.008},"y":{"datum":5.615,"type":"quantitative"}}},
{"data":{"name":"xticks"},"mark":{"type":"rule","color":"#1a1a1a","strokeWidth":2},"encoding":{"x":{"field":"v","type":"quantitative"},"y":{"datum":5.615,"type":"quantitative"},"y2":{"datum":5.384}}},
{"data":{"name":"e2bot"},"mark":{"type":"point","shape":"M-1,0L1,0M0,-1L0,1","filled":false,"strokeWidth":2,"size":85,"opacity":1},
"encoding":{"x":{"field":"x","type":"quantitative","axis":{"values":[0,0.2,0.4,0.6,0.8,1],"format":".1f","title":"Trial Proportion","labelFontSize":18.5,"titleFontSize":19.5,"tickSize":6,"labelPadding":4,"titlePadding":5}},
"y":{"field":"l","type":"quantitative","axis":{"orient":"left","values":[0,1,2,3,4],"labelExpr":"['Irrelevant','Relevant 1','Relevant 2','Relevant 3','Relevant 4'][datum.value]","title":null,"domain":false,"labelFontSize":17.5,"tickSize":6,"labelPadding":4}},
"color":{"field":"c","type":"nominal","scale":{"domain":["Irrelevant","Relevant 1","Relevant 2","Relevant 3","Relevant 4"],"range":["#bdbdbd","#2c5f96","#f2a531","#d93d59","#3d9a72"]},"legend":null}}}
]},
{"data":{"name":"e2top"},"mark":{"type":"point","shape":"M-1,0L1,0M0,-1L0,1","filled":false,"strokeWidth":2,"size":85,"opacity":1},
"encoding":{"x":{"field":"x","type":"quantitative","scale":{"domain":[-0.0064,1.008],"nice":false,"zero":false}},
"y":{"field":"l","type":"quantitative","scale":{"domain":[-5.95,6.192],"nice":false,"zero":false},"axis":{"orient":"left","values":[0,1,2,3,4],"labelExpr":"['Irrelevant','Relevant 1','Relevant 2','Relevant 3','Relevant 4'][datum.value]","title":null,"domain":false,"labelFontSize":17.5,"tickSize":6,"labelPadding":4}},
"color":{"field":"c","type":"nominal","scale":{"domain":["Irrelevant","Relevant 1","Relevant 2","Relevant 3","Relevant 4"],"range":["#bdbdbd","#2c5f96","#f2a531","#d93d59","#3d9a72"]},"legend":null}}}
]}
]},
{"spacing":-21,"hconcat":[
{"width":570,"height":327,
"layer":[
{"data":{"name":"one"},"mark":{"type":"rect","opacity":0},"encoding":{"x":{"datum":-1.0439,"type":"quantitative","scale":{"domain":[-0.5,3.5],"nice":false,"zero":false}},"x2":{"datum":3.8333},"y":{"datum":115.9,"type":"quantitative","scale":{"domain":[-2.1,102],"nice":false,"zero":false}},"y2":{"datum":-24.84}}},
{"data":{"name":"one"},"mark":{"type":"rule","color":"#555","strokeWidth":1,"strokeDash":[1.5,2.5]},"encoding":{"x":{"datum":-0.5,"type":"quantitative"},"x2":{"datum":3.5},"y":{"datum":50,"type":"quantitative"}}},
{"data":{"name":"vio2a"},"mark":{"type":"area","orient":"horizontal","interpolate":"catmull-rom","stroke":"#8a8a8a","strokeWidth":3,"strokeJoin":"round","opacity":1},
"encoding":{"y":{"field":"y","type":"quantitative","axis":{"values":[0,25,50,75,100],"title":"% Classified","labelFontSize":18,"titleFontSize":19.5,"tickSize":7,"labelPadding":9,"titlePadding":6}},
"x":{"field":"xo","type":"quantitative","stack":null,"axis":{"values":[0,1,2,3],"labelExpr":"['2-Unlimited','2-View-Once','4-Unlimited','4-View-Once'][datum.value]","title":"Experiment 2a","labelFontSize":18,"titleFontSize":20,"tickSize":7,"labelPadding":12,"titlePadding":11}},
"x2":{"field":"xe"},
"fill":{"field":"t","type":"nominal","scale":{"domain":["2","4"],"range":["#9dbec4","#e3c29d"]},"legend":null},
"detail":{"field":"c"}}},
{"data":{"name":"box2a"},"mark":{"type":"rect","color":"#68696d"},"encoding":{"x":{"field":"x1","type":"quantitative"},"x2":{"field":"x2"},"y":{"field":"q1","type":"quantitative"},"y2":{"field":"q3"}}},
{"data":{"name":"box2a"},"mark":{"type":"rule","color":"white","strokeWidth":3.5},"encoding":{"x":{"field":"x1","type":"quantitative"},"x2":{"field":"x2"},"y":{"field":"med","type":"quantitative"}}},
{"data":{"name":"one"},"mark":{"type":"text","text":"***","fontSize":22,"align":"center","baseline":"middle"},"encoding":{"x":{"datum":2.25,"type":"quantitative"},"y":{"datum":104.3,"type":"quantitative"}}},
{"data":{"name":"one"},"mark":{"type":"text","text":"***","fontSize":22,"align":"center","baseline":"middle"},"encoding":{"x":{"datum":2.755,"type":"quantitative"},"y":{"datum":104.3,"type":"quantitative"}}},
{"data":{"name":"one"},"mark":{"type":"text","text":"Sequential","fontSize":19.5,"angle":270,"align":"center","baseline":"middle"},"encoding":{"x":{"datum":3.592,"type":"quantitative"},"y":{"datum":73.2,"type":"quantitative"}}},
{"data":{"name":"one"},"mark":{"type":"text","text":"Concurrent","fontSize":19.5,"angle":270,"align":"center","baseline":"middle"},"encoding":{"x":{"datum":3.592,"type":"quantitative"},"y":{"datum":25.2,"type":"quantitative"}}},
{"data":{"name":"one"},"mark":{"type":"rule","color":"#111","strokeWidth":2.5},"encoding":{"x":{"datum":-0.5,"type":"quantitative"},"x2":{"datum":3.7632},"y":{"datum":112.1,"type":"quantitative"}}},
{"data":{"name":"one"},"mark":{"type":"rule","color":"#111","strokeWidth":2.5},"encoding":{"x":{"datum":-0.5,"type":"quantitative"},"y":{"datum":112.1,"type":"quantitative"},"y2":{"datum":105.8}}}
]},
{"width":573,"height":327,
"layer":[
{"data":{"name":"one"},"mark":{"type":"rect","opacity":0},"encoding":{"x":{"datum":-0.9675,"type":"quantitative","scale":{"domain":[-0.5,3.5],"nice":false,"zero":false}},"x2":{"datum":3.6607},"y":{"datum":115.9,"type":"quantitative","scale":{"domain":[-2.1,102],"nice":false,"zero":false}},"y2":{"datum":-24.84}}},
{"data":{"name":"one"},"mark":{"type":"rule","color":"#555","strokeWidth":1,"strokeDash":[1.5,2.5]},"encoding":{"x":{"datum":-0.5,"type":"quantitative"},"x2":{"datum":3.5},"y":{"datum":50,"type":"quantitative"}}},
{"data":{"name":"vio2b"},"mark":{"type":"area","orient":"horizontal","interpolate":"catmull-rom","stroke":"#8a8a8a","strokeWidth":3,"strokeJoin":"round","opacity":1},
"encoding":{"y":{"field":"y","type":"quantitative","axis":{"values":[0,25,50,75,100],"title":null,"labelFontSize":18,"tickSize":7,"labelPadding":9}},
"x":{"field":"xo","type":"quantitative","stack":null,"axis":{"values":[0,1,2,3],"labelExpr":"['2-Unlimited','2-View-Once','4-Unlimited','4-View-Once'][datum.value]","title":"Experiment 2b","labelFontSize":18,"titleFontSize":20,"tickSize":7,"labelPadding":12,"titlePadding":11}},
"x2":{"field":"xe"},
"fill":{"field":"t","type":"nominal","scale":{"domain":["2","4"],"range":["#9dbec4","#e3c29d"]},"legend":null},
"detail":{"field":"c"}}},
{"data":{"name":"box2b"},"mark":{"type":"rect","color":"#68696d"},"encoding":{"x":{"field":"x1","type":"quantitative"},"x2":{"field":"x2"},"y":{"field":"q1","type":"quantitative"},"y2":{"field":"q3"}}},
{"data":{"name":"box2b"},"mark":{"type":"rule","color":"white","strokeWidth":3.5},"encoding":{"x":{"field":"x1","type":"quantitative"},"x2":{"field":"x2"},"y":{"field":"med","type":"quantitative"}}},
{"data":{"name":"one"},"mark":{"type":"text","text":"**","fontSize":22,"align":"center","baseline":"middle"},"encoding":{"x":{"datum":0.243,"type":"quantitative"},"y":{"datum":104.3,"type":"quantitative"}}},
{"data":{"name":"one"},"mark":{"type":"text","text":"***","fontSize":22,"align":"center","baseline":"middle"},"encoding":{"x":{"datum":2.242,"type":"quantitative"},"y":{"datum":104.3,"type":"quantitative"}}},
{"data":{"name":"one"},"mark":{"type":"text","text":"***","fontSize":22,"align":"center","baseline":"middle"},"encoding":{"x":{"datum":2.74,"type":"quantitative"},"y":{"datum":104.3,"type":"quantitative"}}},
{"data":{"name":"one"},"mark":{"type":"text","text":"Sequential","fontSize":19.5,"angle":270,"align":"center","baseline":"middle"},"encoding":{"x":{"datum":3.57,"type":"quantitative"},"y":{"datum":73.2,"type":"quantitative"}}},
{"data":{"name":"one"},"mark":{"type":"text","text":"Concurrent","fontSize":19.5,"angle":270,"align":"center","baseline":"middle"},"encoding":{"x":{"datum":3.57,"type":"quantitative"},"y":{"datum":25.2,"type":"quantitative"}}},
{"data":{"name":"one"},"mark":{"type":"rule","color":"#111","strokeWidth":2.5},"encoding":{"x":{"datum":-0.897,"type":"quantitative"},"x2":{"datum":3.452},"y":{"datum":112.1,"type":"quantitative"}}},
{"data":{"name":"one"},"mark":{"type":"rule","color":"#111","strokeWidth":2.5},"encoding":{"x":{"datum":3.452,"type":"quantitative"},"y":{"datum":112.1,"type":"quantitative"},"y2":{"datum":107.0}}}
]}
]}
]
}
